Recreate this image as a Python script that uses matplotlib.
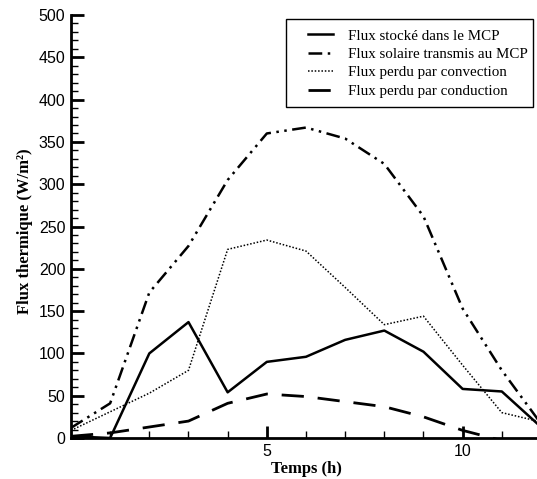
import matplotlib.pyplot as plt
from matplotlib.patches import Rectangle
from matplotlib.ticker import MultipleLocator

# Time in hours
hours = [0, 1, 2, 3, 4, 5, 6, 7, 8, 9, 10, 11, 12]

# Flux values (W/m2)
flux_stocke = [2, 0, 100, 137, 54, 90, 96, 116, 127, 102, 58, 55, 13]
flux_solaire = [12, 41, 172, 227, 305, 360, 367, 354, 324, 262, 153, 80, 17]
flux_convection = [9, 31, 53, 80, 223, 234, 221, 178, 134, 144, 86, 30, 19]
flux_conduction = [2, 6, 13, 20, 41, 52, 49, 43, 37, 25, 9, -3, -20]

labels = [
    "Flux stocké dans le MCP",
    "Flux solaire transmis au MCP",
    "Flux perdu par convection",
    "Flux perdu par conduction",
]

fig = plt.figure(figsize=(5.37, 4.79), dpi=100)
ax = fig.add_axes([0.1322, 0.0856, 0.8752, 0.883])

ax.plot(hours, flux_stocke, color='black', lw=1.8, label=labels[0])
ax.plot(hours, flux_solaire, color='black', lw=1.8,
        linestyle=(0, (5.5, 2.2, 1, 2.2, 1, 2.2)), label=labels[1])
ax.plot(hours, flux_convection, color='black', lw=1.1,
        linestyle=(0, (1, 1.2)), label=labels[2])
ax.plot(hours, flux_conduction, color='black', lw=2.0,
        linestyle=(0, (8, 5)), label=labels[3])

ax.set_xlim(0, 12)
ax.set_ylim(0, 500)
ax.xaxis.set_major_locator(MultipleLocator(5))
ax.xaxis.set_minor_locator(MultipleLocator(1))
ax.yaxis.set_major_locator(MultipleLocator(50))
ax.yaxis.set_minor_locator(MultipleLocator(10))

ax.spines['top'].set_visible(False)
ax.spines['right'].set_visible(False)
ax.spines['left'].set_linewidth(2)
ax.spines['bottom'].set_linewidth(2)

ax.tick_params(which='major', direction='in', length=9, width=2,
               labelsize=11.5, pad=4)
ax.tick_params(which='minor', direction='in', length=5, width=1)
for lab in ax.get_xticklabels() + ax.get_yticklabels():
    lab.set_fontfamily('Liberation Sans')
ax.set_xticks([5, 10])
ax.set_xticklabels(['5', '10'], fontfamily='Liberation Sans', fontsize=11.5)

ax.set_xlabel("Temps (h)", fontfamily='Liberation Serif', fontweight='bold',
              fontsize=12)
ax.xaxis.set_label_coords(0.5, -0.055)
ax.set_ylabel("Flux thermique (W/m²)", fontfamily='Liberation Serif',
              fontweight='bold', fontsize=12)
ax.yaxis.set_label_coords(-0.081, 0.49)

# legend entries without frame, frame drawn as a plain box
leg = fig.legend(loc='upper left', bbox_to_anchor=(308 / 537, 1 - 29 / 479),
                 prop={'family': 'Liberation Serif', 'size': 10.8},
                 frameon=False, handlelength=1.67, handletextpad=1.0,
                 labelspacing=0.33, borderpad=0, borderaxespad=0)
fig.add_artist(Rectangle((286 / 537, 1 - 107 / 479), 247 / 537, 88 / 479,
                         transform=fig.transFigure, fill=False,
                         edgecolor='black', linewidth=1))

fig.savefig("out.png", dpi=100)
